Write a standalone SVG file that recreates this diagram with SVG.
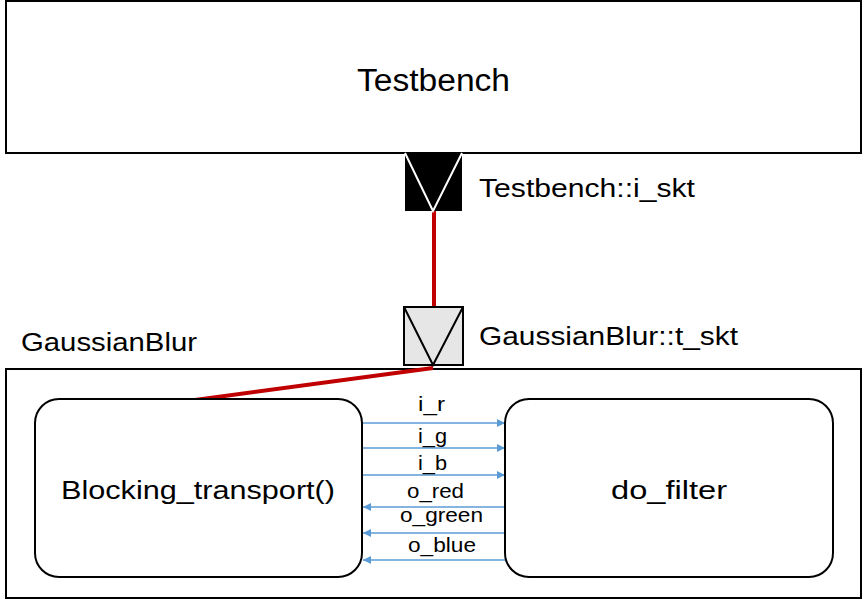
<svg xmlns="http://www.w3.org/2000/svg" width="862" height="599" viewBox="0 0 862 599">
<defs>
<marker id="ah" viewBox="0 0 10 10" refX="10" refY="5" markerWidth="10" markerHeight="8" markerUnits="userSpaceOnUse" orient="auto"><path d="M0,0 L10,5 L0,10 z" fill="#5b9bd5"/></marker>
</defs>
<style>
text{font-family:"Liberation Sans",Arial,sans-serif;fill:#000}
.box{fill:#fff;stroke:#000;stroke-width:2}
.big{font-size:31px}
.mid{font-size:26px}
.sm{font-size:20px}
.sig{stroke:#5b9bd5;stroke-width:1.3;fill:none;marker-end:url(#ah)}
.red{stroke:#c00000;stroke-width:4;fill:none}
</style>
<rect width="862" height="599" fill="#fff"/>
<g id="testbench">
<rect class="box" x="6" y="1" width="855" height="152"/>
<text class="big" x="357" y="91" textLength="153" lengthAdjust="spacingAndGlyphs">Testbench</text>
</g>
<g id="gaussianblur">
<rect class="box" x="6" y="369" width="855" height="229"/>
<text class="mid" x="21" y="351" textLength="176" lengthAdjust="spacingAndGlyphs">GaussianBlur</text>
</g>
<g id="connectors">
<line class="red" x1="434" y1="211" x2="434" y2="307"/>
<line class="red" x1="433" y1="368" x2="195" y2="400"/>
<line class="sig" x1="363" y1="423" x2="505" y2="423"/>
<line class="sig" x1="363" y1="448" x2="505" y2="448"/>
<line class="sig" x1="363" y1="475" x2="505" y2="475"/>
<line class="sig" x1="505" y1="507" x2="363" y2="507"/>
<line class="sig" x1="505" y1="533" x2="363" y2="533"/>
<line class="sig" x1="505" y1="560" x2="363" y2="560"/>
<text class="sm" x="418" y="411" textLength="27" lengthAdjust="spacingAndGlyphs">i_r</text>
<text class="sm" x="418" y="443" textLength="29" lengthAdjust="spacingAndGlyphs">i_g</text>
<text class="sm" x="418" y="470" textLength="29" lengthAdjust="spacingAndGlyphs">i_b</text>
<text class="sm" x="407" y="498" textLength="57" lengthAdjust="spacingAndGlyphs">o_red</text>
<text class="sm" x="400" y="522" textLength="83" lengthAdjust="spacingAndGlyphs">o_green</text>
<text class="sm" x="408" y="552" textLength="68" lengthAdjust="spacingAndGlyphs">o_blue</text>
</g>
<g id="i_skt">
<rect x="405" y="153" width="57" height="58" fill="#000"/>
<polyline points="405,153 433,211 462,153" fill="none" stroke="#fff" stroke-width="2"/>
<text class="mid" x="479" y="197" textLength="216" lengthAdjust="spacingAndGlyphs">Testbench::i_skt</text>
</g>
<g id="t_skt">
<rect x="404" y="307" width="59" height="58" fill="#e6e6e6" stroke="#000" stroke-width="2"/>
<polyline points="404,307 433,365 463,307" fill="none" stroke="#000" stroke-width="2"/>
<text class="mid" x="479" y="345" textLength="259" lengthAdjust="spacingAndGlyphs">GaussianBlur::t_skt</text>
</g>
<g id="blocking">
<rect class="box" x="35" y="399" width="327" height="178" rx="24"/>
<text class="mid" x="61" y="499" textLength="274" lengthAdjust="spacingAndGlyphs">Blocking_transport()</text>
</g>
<g id="dofilter">
<rect class="box" x="505" y="399" width="328" height="178" rx="24"/>
<text class="mid" x="611" y="499" textLength="116" lengthAdjust="spacingAndGlyphs">do_filter</text>
</g>
</svg>
